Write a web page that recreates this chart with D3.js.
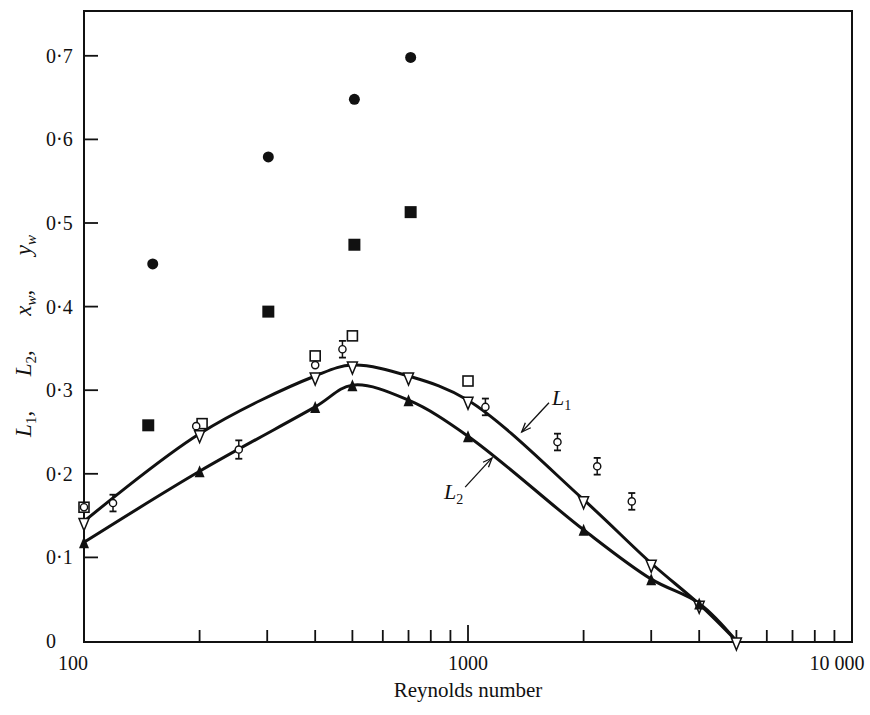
<!DOCTYPE html>
<html>
<head>
<meta charset="utf-8">
<script src="https://cdn.jsdelivr.net/npm/d3@7"></script>
<style>
  html, body { margin: 0; padding: 0; background: #fff; }
  svg { display: block; }
  text { font-family: "Liberation Serif", "DejaVu Serif", serif; fill: #111; }
</style>
</head>
<body>
<svg id="chart" width="870" height="715"></svg>
<script>
// ---------- data ----------
// L1 : open inverted triangles (curve L1)
const l1Re  = [100, 200, 400, 500, 700, 1000, 2000, 3000, 4000, 5000];
const l1Val = [0.143, 0.248, 0.317, 0.330, 0.317, 0.288, 0.169, 0.093, 0.044, 0.0];
// L2 : filled triangles (curve L2)
const l2Re  = [100, 200, 400, 500, 700, 1000, 2000, 3000, 4000, 5000];
const l2Val = [0.118, 0.203, 0.280, 0.306, 0.288, 0.245, 0.133, 0.074, 0.045, 0.0];
// filled circles
const fcRe  = [151, 302, 506, 709];
const fcVal = [0.451, 0.579, 0.648, 0.698];
// filled squares
const fsRe  = [147, 302, 506, 709];
const fsVal = [0.258, 0.394, 0.474, 0.513];
// open squares
const osRe  = [100, 203, 400, 500, 1000];
const osVal = [0.160, 0.260, 0.341, 0.365, 0.311];
// open circles with error bars
const ocRe  = [100, 119, 196, 253, 400, 471, 1110, 1710, 2170, 2670];
const ocVal = [0.160, 0.165, 0.257, 0.229, 0.330, 0.349, 0.280, 0.238, 0.209, 0.167];
const ocErr = [0.0, 0.010, 0.0, 0.011, 0.0, 0.010, 0.010, 0.010, 0.010, 0.010];
// axis ticks
const yTicks = [0, 0.1, 0.2, 0.3, 0.4, 0.5, 0.6, 0.7];
const yTickLabels = ["0", "0·1", "0·2", "0·3", "0·4", "0·5", "0·6", "0·7"];
const xMajor = [100, 1000, 10000];
const xMajorLabels = ["100", "1000", "10 000"];
const xMinor = [200, 300, 400, 500, 600, 700, 800, 900, 2000, 3000, 4000, 5000, 6000, 7000, 8000, 9000];
// curve annotations
const annLabels = ["L", "L"];
const annSubs   = ["1", "2"];
const annTail   = [[1625, 0.285], [983, 0.184]];
const annTip    = [[1380, 0.250], [1155, 0.219]];

// ---------- layout ----------
const svg = d3.select("#chart");
const pLeft = 84, pRight = 852, pTop = 11, pBottom = 642;
const x = d3.scaleLog().domain([100, 10000]).range([pLeft, pRight]);
const y = d3.scaleLinear().domain([0, 0.7]).range([641, 55.8]);

// frame
svg.append("rect")
  .attr("x", pLeft).attr("y", pTop)
  .attr("width", pRight - pLeft).attr("height", pBottom - pTop)
  .attr("fill", "none").attr("stroke", "#111").attr("stroke-width", 2);

// y ticks (inward)
svg.append("g").selectAll("line")
  .data(yTicks.filter(v => v > 0))
  .join("line")
  .attr("x1", pLeft).attr("x2", pLeft + 14)
  .attr("y1", d => y(d)).attr("y2", d => y(d))
  .attr("stroke", "#111").attr("stroke-width", 1.8);

svg.append("g").selectAll("text")
  .data(yTicks)
  .join("text")
  .attr("x", 46)
  .attr("y", d => y(d) + 7)
  .attr("font-size", 20)
  .text((d, i) => yTickLabels[i]);

// x ticks (inward, upward)
svg.append("g").selectAll("line")
  .data(xMinor)
  .join("line")
  .attr("x1", d => x(d)).attr("x2", d => x(d))
  .attr("y1", pBottom).attr("y2", pBottom - 12)
  .attr("stroke", "#111").attr("stroke-width", 1.8);
svg.append("line")
  .attr("x1", x(1000)).attr("x2", x(1000))
  .attr("y1", pBottom).attr("y2", pBottom - 17)
  .attr("stroke", "#111").attr("stroke-width", 1.8);

const xLabOffset = [-11, 0, -15];
svg.append("g").selectAll("text")
  .data(xMajor)
  .join("text")
  .attr("x", (d, i) => x(d) + xLabOffset[i])
  .attr("y", 670)
  .attr("text-anchor", "middle")
  .attr("font-size", 20)
  .text((d, i) => xMajorLabels[i]);

svg.append("text")
  .attr("x", 468).attr("y", 697)
  .attr("text-anchor", "middle")
  .attr("font-size", 21)
  .text("Reynolds number");

// y axis title
const yt = svg.append("text")
  .attr("transform", "translate(31,336) rotate(-90)")
  .attr("text-anchor", "middle")
  .attr("font-size", 23);
const parts = [["L", "1"], ["L", "2"], ["x", "w"], ["y", "w"]];
parts.forEach((p, i) => {
  yt.append("tspan").attr("font-style", "italic").text(p[0]);
  yt.append("tspan").attr("font-size", 15).attr("dy", 5)
    .attr("font-style", /[a-z]/.test(p[1]) ? "italic" : "normal").text(p[1]);
  yt.append("tspan").attr("dy", -5).text(i < parts.length - 1 ? ",\u2003\u2002" : "");
});

// ---------- curves ----------
const line = d3.line()
  .x(d => x(d[0])).y(d => y(d[1]))
  .curve(d3.curveCatmullRom.alpha(0.5));

svg.append("path")
  .datum(l1Re.map((r, i) => [r, l1Val[i]]))
  .attr("d", line).attr("fill", "none")
  .attr("stroke", "#111").attr("stroke-width", 3);
svg.append("path")
  .datum(l2Re.map((r, i) => [r, l2Val[i]]))
  .attr("d", line).attr("fill", "none")
  .attr("stroke", "#111").attr("stroke-width", 3);

// ---------- markers ----------
// filled circles
svg.append("g").selectAll("circle")
  .data(fcRe.map((r, i) => [r, fcVal[i]]))
  .join("circle")
  .attr("cx", d => x(d[0])).attr("cy", d => y(d[1]))
  .attr("r", 5.5).attr("fill", "#111");

// filled squares
svg.append("g").selectAll("rect")
  .data(fsRe.map((r, i) => [r, fsVal[i]]))
  .join("rect")
  .attr("x", d => x(d[0]) - 6).attr("y", d => y(d[1]) - 6)
  .attr("width", 12).attr("height", 12).attr("fill", "#111");

// open squares
svg.append("g").selectAll("rect")
  .data(osRe.map((r, i) => [r, osVal[i]]))
  .join("rect")
  .attr("x", d => x(d[0]) - 5).attr("y", d => y(d[1]) - 5)
  .attr("width", 10).attr("height", 10)
  .attr("fill", "#fff").attr("stroke", "#111").attr("stroke-width", 1.6);

// open circles with error bars
const oc = svg.append("g").selectAll("g")
  .data(ocRe.map((r, i) => [r, ocVal[i], ocErr[i]]))
  .join("g");
oc.filter(d => d[2] > 0).append("line")
  .attr("x1", d => x(d[0])).attr("x2", d => x(d[0]))
  .attr("y1", d => y(d[1] - d[2])).attr("y2", d => y(d[1] + d[2]))
  .attr("stroke", "#111").attr("stroke-width", 1.5);
oc.filter(d => d[2] > 0).selectAll("line.cap")
  .data(d => [[d[0], d[1] - d[2]], [d[0], d[1] + d[2]]])
  .join("line").attr("class", "cap")
  .attr("x1", d => x(d[0]) - 3.5).attr("x2", d => x(d[0]) + 3.5)
  .attr("y1", d => y(d[1])).attr("y2", d => y(d[1]))
  .attr("stroke", "#111").attr("stroke-width", 1.8);
oc.append("circle")
  .attr("cx", d => x(d[0])).attr("cy", d => y(d[1]))
  .attr("r", 3.6).attr("fill", "#fff")
  .attr("stroke", "#111").attr("stroke-width", 1.4);

// open inverted triangles (L1)
const triDown = "M-5,-6 L5,-6 L0,6 Z";
const triUp = "M-5,6 L5,6 L0,-6 Z";
svg.append("g").selectAll("path")
  .data(l1Re.map((r, i) => [r, l1Val[i]]))
  .join("path")
  .attr("transform", d => `translate(${x(d[0])},${y(d[1]) + 3})`)
  .attr("d", triDown)
  .attr("fill", "#fff").attr("stroke", "#111").attr("stroke-width", 1.5);

// filled triangles (L2)
svg.append("g").selectAll("path")
  .data(l2Re.slice(0, 9).map((r, i) => [r, l2Val[i]]))
  .join("path")
  .attr("transform", d => `translate(${x(d[0])},${y(d[1])})`)
  .attr("d", triUp)
  .attr("fill", "#111");

// ---------- annotations ----------
annLabels.forEach((lab, i) => {
  const tx = x(annTail[i][0]), ty = y(annTail[i][1]);
  const px = x(annTip[i][0]), py = y(annTip[i][1]);
  svg.append("line")
    .attr("x1", tx).attr("y1", ty).attr("x2", px).attr("y2", py)
    .attr("stroke", "#111").attr("stroke-width", 1.3);
  const ang = Math.atan2(py - ty, px - tx);
  const hl = 10, spread = 0.38;
  const hp = [ang + Math.PI - spread, ang + Math.PI + spread]
    .map(a => [px + hl * Math.cos(a), py + hl * Math.sin(a)]);
  svg.append("path")
    .attr("d", `M${hp[0][0]},${hp[0][1]} L${px},${py} L${hp[1][0]},${hp[1][1]}`)
    .attr("fill", "none").attr("stroke", "#111").attr("stroke-width", 1.3);
  const t = svg.append("text")
    .attr("font-size", 22)
    .attr("x", i === 0 ? tx + 3 : tx - 2)
    .attr("y", i === 0 ? ty + 2 : ty + 12)
    .attr("text-anchor", i === 0 ? "start" : "end");
  t.append("tspan").attr("font-style", "italic").text(lab);
  t.append("tspan").attr("font-size", 14).attr("dy", 5).text(annSubs[i]);
});
</script>
</body>
</html>
